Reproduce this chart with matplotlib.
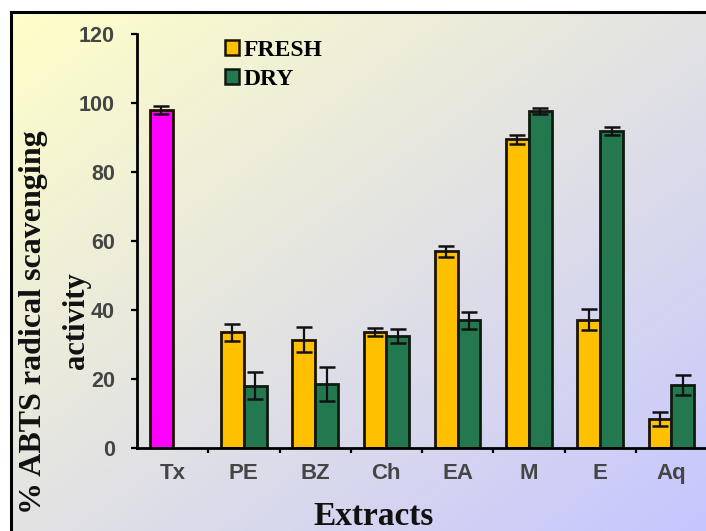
import matplotlib
matplotlib.use('Agg')
import matplotlib.pyplot as plt
import numpy as np
from matplotlib.lines import Line2D
from matplotlib.patches import Patch

categories = ['Tx', 'PE', 'BZ', 'Ch', 'EA', 'M', 'E', 'Aq']
fresh = [98.0, 33.5, 31.3, 33.5, 57.0, 89.5, 37.2, 8.4]
fresh_err = [1.2, 2.5, 3.6, 1.2, 1.5, 1.3, 3.0, 2.0]
dry = [np.nan, 18.0, 18.5, 32.5, 37.0, 97.8, 92.0, 18.2]
dry_err = [np.nan, 4.0, 4.8, 2.0, 2.4, 0.8, 1.2, 3.0]
series_names = ['FRESH', 'DRY']
yticks = [0, 20, 40, 60, 80, 100, 120]

W, H = 706, 531
fig = plt.figure(figsize=(W / 100, H / 100), dpi=100)
fig.patch.set_facecolor('white')

# gradient background inside frame
bg = fig.add_axes([0, 0, 1, 1], zorder=0)
bg.set_xlim(0, W)
bg.set_ylim(H, 0)
bg.axis('off')
x0, y0 = 11, 12
gx = np.linspace(0, 1, 300)
gy = np.linspace(0, 1, 300)
GX, GY = np.meshgrid(gx, gy)
t = (GX + GY) / 2
c1 = np.array([255, 255, 200]) / 255
c2 = np.array([198, 198, 255]) / 255
img = c1[None, None, :] * (1 - t[..., None]) + c2[None, None, :] * t[..., None]
bg.imshow(img, extent=(x0, W, H, y0), aspect='auto', interpolation='bilinear')
bg.add_line(Line2D([x0, x0], [y0, H], color='black', lw=2.2))
bg.add_line(Line2D([x0, W], [y0, y0], color='black', lw=2.2))

ax = fig.add_axes([137 / W, 1 - 447.7 / H, 570 / W, (447.7 - 34.4) / H], zorder=1)
ax.set_facecolor('none')

x = np.arange(len(categories))
bw = 0.32
fresh_colors = ['#FF00FF'] + ['#FFC000'] * (len(categories) - 1)
ax.bar(x - 0.16, fresh, bw, color=fresh_colors, edgecolor='#1c1400', linewidth=2.0, zorder=2)
ax.bar(x + 0.16, dry, bw, color='#237850', edgecolor='#0d1a10', linewidth=2.0, zorder=2)
ax.errorbar(x - 0.16, fresh, yerr=fresh_err, fmt='none', ecolor='#111111', elinewidth=1.6,
            capsize=5.5, capthick=1.8, zorder=3)
ax.errorbar(x + 0.16, dry, yerr=dry_err, fmt='none', ecolor='#111111', elinewidth=1.6,
            capsize=5.5, capthick=1.8, zorder=3)

ax.set_xlim(-0.5, len(categories) - 0.5)
ax.set_ylim(0, 120)
ax.set_yticks(yticks)
ax.set_xticks(x)
ax.set_xticklabels(categories)
ax.set_xticks(np.arange(0.5, len(categories) - 0.5, 1), minor=True)
for s in ['top', 'right']:
    ax.spines[s].set_visible(False)
for s in ['left', 'bottom']:
    ax.spines[s].set_linewidth(2.0)
ax.tick_params(axis='y', direction='out', length=4.5, width=1.6, pad=11.5,
               labelsize=15.5, labelcolor='#454545')
ax.tick_params(axis='x', which='major', length=0, pad=11, labelsize=16, labelcolor='#454545')
ax.tick_params(axis='x', which='minor', direction='out', length=3.6, width=1.6)
for lab in ax.get_xticklabels() + ax.get_yticklabels():
    lab.set_family('Liberation Sans')
    lab.set_fontweight('bold')

handles = [Patch(facecolor='#FFC000', edgecolor='#1c1400', linewidth=1.8),
           Patch(facecolor='#237850', edgecolor='#0d1a10', linewidth=1.8)]
ax.legend(handles, series_names, loc='upper left', bbox_to_anchor=(0.133, 1.016),
          frameon=False, borderpad=0, handlelength=0.6, handleheight=0.6,
          handletextpad=0.2, labelspacing=0.35,
          prop={'family': 'Liberation Serif', 'weight': 'bold', 'size': 17})

fig.text(34 / W, 1 - 322 / H, '% ABTS radical scavenging', rotation=90, ha='center', va='center',
         fontsize=23, fontweight='bold', family='Liberation Serif', color='#111111')
fig.text(77 / W, 1 - 321 / H, 'activity', rotation=90, ha='center', va='center',
         fontsize=22, fontweight='bold', family='Liberation Serif', color='#111111')
fig.text(374 / W, 1 - 525 / H, 'Extracts', ha='center', va='baseline',
         fontsize=24, fontweight='bold', family='Liberation Serif', color='#111111')

fig.savefig('out.png', dpi=100)
